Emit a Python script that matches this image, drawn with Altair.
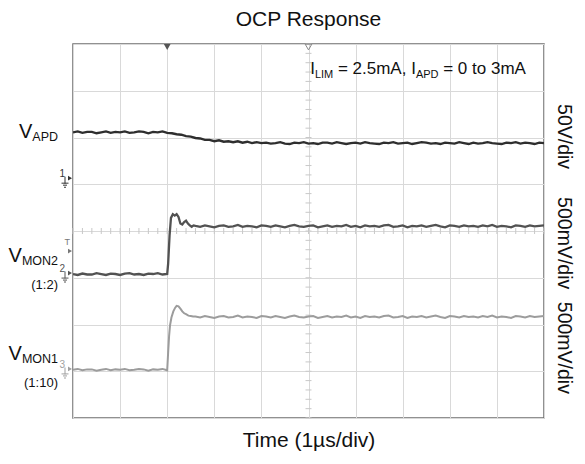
import altair as alt
import pandas as pd

FONT = "Liberation Sans"

# sample clock (µs), 0.1 µs per sample, trigger at t = 0
T = [round(-2.0 + 0.1 * i, 1) for i in range(101)]
T_PRE = T[:21]    # -2.0 .. 0.0
T_POST = T[26:]   # 0.6 .. 8.0

# values in screen divisions (0 = bottom graticule line, 8 = top)
VAPD = [6.11, 6.13, 6.10, 6.12, 6.12, 6.09, 6.11, 6.13, 6.10, 6.12,
        6.11, 6.13, 6.10, 6.11, 6.13, 6.12, 6.09, 6.12, 6.11, 6.13, 6.10,
        6.09, 6.07, 6.06, 6.03, 6.02, 5.99, 5.98, 5.95, 5.95, 5.92,
        5.94, 5.91, 5.92, 5.90, 5.92, 5.89, 5.91, 5.88, 5.90, 5.88,
        5.89, 5.87, 5.88, 5.90, 5.87, 5.86, 5.89, 5.88, 5.90, 5.87,
        5.88, 5.86, 5.89, 5.89, 5.87, 5.90, 5.88, 5.86, 5.88, 5.89,
        5.87, 5.90, 5.88, 5.87, 5.86, 5.89, 5.88, 5.90, 5.87, 5.88,
        5.89, 5.86, 5.88, 5.90, 5.89, 5.87, 5.88, 5.86, 5.89, 5.88,
        5.87, 5.90, 5.88, 5.86, 5.89, 5.87, 5.88, 5.90, 5.88, 5.87,
        5.86, 5.89, 5.88, 5.90, 5.87, 5.89, 5.88, 5.86, 5.89, 5.88]

VMON2_PRE = [3.08, 3.06, 3.09, 3.07, 3.07, 3.10, 3.08, 3.06, 3.09, 3.08,
             3.06, 3.09, 3.10, 3.07, 3.08, 3.06, 3.09, 3.08, 3.10, 3.07, 3.08]
VMON2_EDGE_T = [0.02, 0.05, 0.08, 0.12, 0.16, 0.20, 0.24, 0.28, 0.32, 0.36,
                0.40, 0.44, 0.48, 0.52, 0.56]
VMON2_EDGE = [3.30, 3.90, 4.28, 4.36, 4.33, 4.36, 4.30, 4.16, 4.14, 4.19,
              4.22, 4.16, 4.12, 4.09, 4.12]
VMON2_POST = [4.11, 4.09, 4.12, 4.10, 4.08, 4.11, 4.12, 4.09, 4.10, 4.13,
              4.09, 4.11, 4.10, 4.08, 4.12, 4.11, 4.09, 4.12, 4.10, 4.08,
              4.11, 4.13, 4.10, 4.09, 4.11, 4.12, 4.08, 4.10, 4.12, 4.09,
              4.11, 4.10, 4.13, 4.09, 4.11, 4.08, 4.12, 4.10, 4.11, 4.09,
              4.12, 4.13, 4.09, 4.10, 4.12, 4.08, 4.11, 4.10, 4.12, 4.09,
              4.11, 4.13, 4.10, 4.08, 4.12, 4.11, 4.09, 4.12, 4.10, 4.11,
              4.09, 4.12, 4.10, 4.13, 4.09, 4.11, 4.10, 4.08, 4.12, 4.11,
              4.09, 4.12, 4.10, 4.11, 4.12]

VMON1_PRE = [1.03, 1.05, 1.02, 1.04, 1.04, 1.01, 1.03, 1.05, 1.02, 1.04,
             1.03, 1.05, 1.02, 1.03, 1.05, 1.04, 1.01, 1.04, 1.03, 1.05, 1.02]
VMON1_EDGE_T = [0.02, 0.04, 0.06, 0.09, 0.13, 0.17, 0.20, 0.24, 0.28, 0.32,
                0.36, 0.40, 0.45, 0.50, 0.55]
VMON1_EDGE = [1.40, 1.75, 1.98, 2.15, 2.28, 2.36, 2.40, 2.39, 2.34, 2.28,
              2.24, 2.22, 2.19, 2.18, 2.17]
VMON1_POST = [2.17, 2.15, 2.18, 2.16, 2.14, 2.17, 2.18, 2.15, 2.16, 2.19,
              2.15, 2.17, 2.16, 2.14, 2.18, 2.17, 2.15, 2.18, 2.16, 2.14,
              2.17, 2.19, 2.16, 2.15, 2.17, 2.18, 2.14, 2.16, 2.18, 2.15,
              2.17, 2.16, 2.19, 2.15, 2.17, 2.14, 2.18, 2.16, 2.17, 2.15,
              2.18, 2.19, 2.15, 2.16, 2.18, 2.14, 2.17, 2.16, 2.18, 2.15,
              2.17, 2.19, 2.16, 2.14, 2.18, 2.17, 2.15, 2.18, 2.16, 2.17,
              2.15, 2.18, 2.16, 2.19, 2.15, 2.17, 2.16, 2.14, 2.18, 2.17,
              2.15, 2.18, 2.16, 2.17, 2.18]

# channel ground markers (division level) and trigger level
CH_MARKERS = [("1", 5.13, "#333333"), ("2", 3.10, "#555555"), ("3", 1.05, "#a0a0a0")]
TRIG_LEVEL = 3.57
SCALES_TXT = [("50V/div", 6.02), ("500mV/div", 3.74), ("500mV/div", 1.50)]

GRID_X = list(range(-2, 9))
GRID_Y = list(range(0, 9))

xs = alt.Scale(domain=[-2, 8], nice=False, zero=False)
ys = alt.Scale(domain=[0, 8], nice=False, zero=False)
X = alt.X("t:Q", scale=xs, title="Time (1µs/div)",
          axis=alt.Axis(values=GRID_X, grid=True, labels=False, ticks=False, domain=False,
                        gridColor="#d9d9d9", gridWidth=1, titleFont=FONT, titleFontSize=21,
                        titleFontWeight="normal", titleColor="#111111", titlePadding=11))
Y = alt.Y("v:Q", scale=ys, title=None,
          axis=alt.Axis(values=GRID_Y, grid=True, labels=False, ticks=False, domain=False,
                        gridColor="#d9d9d9", gridWidth=1))


def trace(ts, vs, color, width):
    df = pd.DataFrame({"t": ts, "v": vs})
    return alt.Chart(df).mark_line(color=color, strokeWidth=width, clip=True).encode(x=X, y=Y)


def txt(t, v, text, size, dx=0, dy=0, align="left", color="#111111", angle=0, baseline="alphabetic"):
    df = pd.DataFrame({"t": [t], "v": [v], "s": [text]})
    kw = dict(font=FONT, fontSize=size, dx=dx, dy=dy, align=align, color=color,
              baseline=baseline)
    if angle:
        kw["angle"] = angle
    return alt.Chart(df).mark_text(**kw).encode(x=X, y=Y, text="s:N")


def tick(t, v, orient, size, color, xo=0, yo=0, thick=1):
    df = pd.DataFrame({"t": t, "v": v})
    return alt.Chart(df).mark_tick(orient=orient, size=size, thickness=thick, color=color,
                                   xOffset=xo, yOffset=yo, opacity=1).encode(x=X, y=Y)


layers = []
# minor ticks on centre lines
minor_x = [round(-2 + 0.2 * k, 1) for k in range(51)]
minor_y = [round(0.2 * k, 1) for k in range(41)]
layers.append(tick(minor_x, [4] * len(minor_x), "vertical", 6, "#c8c8c8"))
layers.append(tick([3] * len(minor_y), minor_y, "horizontal", 6, "#c8c8c8"))

layers.append(trace(T, VAPD, "#2e2e2e", 2.4))
layers.append(trace(T_PRE + VMON2_EDGE_T + T_POST, VMON2_PRE + VMON2_EDGE + VMON2_POST,
                    "#525252", 2.3))
layers.append(trace(T_PRE + VMON1_EDGE_T + T_POST, VMON1_PRE + VMON1_EDGE + VMON1_POST,
                    "#9c9c9c", 2.0))

# top markers: trigger position (filled) and centre (hollow)
layers.append(alt.Chart(pd.DataFrame({"t": [0], "v": [8]}))
              .mark_point(shape="triangle-down", filled=True, size=45, color="#555555",
                          yOffset=3, opacity=1).encode(x=X, y=Y))
layers.append(alt.Chart(pd.DataFrame({"t": [3], "v": [8]}))
              .mark_point(shape="triangle-down", filled=False, size=45, color="#888888",
                          yOffset=3, strokeWidth=1, opacity=1).encode(x=X, y=Y))

# channel markers on left edge (number, arrow, ground symbol)
for lab, lvl, col in CH_MARKERS:
    layers.append(alt.Chart(pd.DataFrame({"t": [-2], "v": [lvl]}))
                  .mark_point(shape="triangle-right", filled=True, size=22, color=col,
                              xOffset=-3, opacity=1).encode(x=X, y=Y))
    layers.append(txt(-2, lvl, lab, 10, dx=-8, dy=1, align="right", color=col, baseline="bottom"))
    layers.append(tick([-2], [lvl], "vertical", 7, col, xo=-8, yo=2))
    layers.append(tick([-2], [lvl], "horizontal", 7, col, xo=-8, yo=5))
    layers.append(tick([-2], [lvl], "horizontal", 4, col, xo=-8, yo=7))
    layers.append(tick([-2], [lvl], "horizontal", 2, col, xo=-8, yo=9))
layers.append(alt.Chart(pd.DataFrame({"t": [-2], "v": [TRIG_LEVEL]}))
              .mark_point(shape="triangle-right", filled=True, size=22, color="#777777",
                          xOffset=-3, opacity=1).encode(x=X, y=Y))
layers.append(txt(-2, TRIG_LEVEL, "T", 9, dx=-3, dy=-4, align="right", color="#777777",
                  baseline="bottom"))

# left signal labels
layers.append(txt(-2, 5.99, "V", 20, dx=-40.7, align="right"))
layers.append(txt(-2, 5.99, "APD", 12.5, dx=-15, dy=3, align="right"))
layers.append(txt(-2, 3.34, "V", 20, dx=-51.1, align="right"))
layers.append(txt(-2, 3.34, "MON2", 12.5, dx=-15, dy=3, align="right"))
layers.append(txt(-2, 2.76, "(1:2)", 13, dx=-15, align="right"))
layers.append(txt(-2, 1.24, "V", 20, dx=-51.1, align="right"))
layers.append(txt(-2, 1.24, "MON1", 12.5, dx=-15, dy=3, align="right"))
layers.append(txt(-2, 0.66, "(1:10)", 13, dx=-15, align="right"))

# annotation (top right)
AY = 7.36
layers.append(txt(3, AY, "I", 17, dx=1.7))
layers.append(txt(3, AY, "LIM", 11, dx=6.4, dy=4))
layers.append(txt(3, AY, "= 2.5mA, I", 17, dx=29.4))
layers.append(txt(3, AY, "APD", 11, dx=107.4, dy=4))
layers.append(txt(3, AY, "= 0 to 3mA", 17, dx=134.7))

# vertical scale labels at right
for s, lvl in SCALES_TXT:
    layers.append(txt(8, lvl, s, 19.5, dx=0, dy=-20, align="center", angle=90,
                      baseline="middle"))

chart = alt.layer(*layers).properties(
    width=471, height=374,
    title=alt.TitleParams("OCP Response", font=FONT, fontSize=21, fontWeight="normal",
                          color="#111111", anchor="middle", offset=12),
    autosize=alt.AutoSizeParams(type="none"),
    padding={"left": 65, "top": 36, "right": 33, "bottom": 38},
).configure_view(stroke="#6e6e6e", strokeWidth=1.5)

chart.save("out.html", embed_options={"renderer": "svg", "actions": False})
